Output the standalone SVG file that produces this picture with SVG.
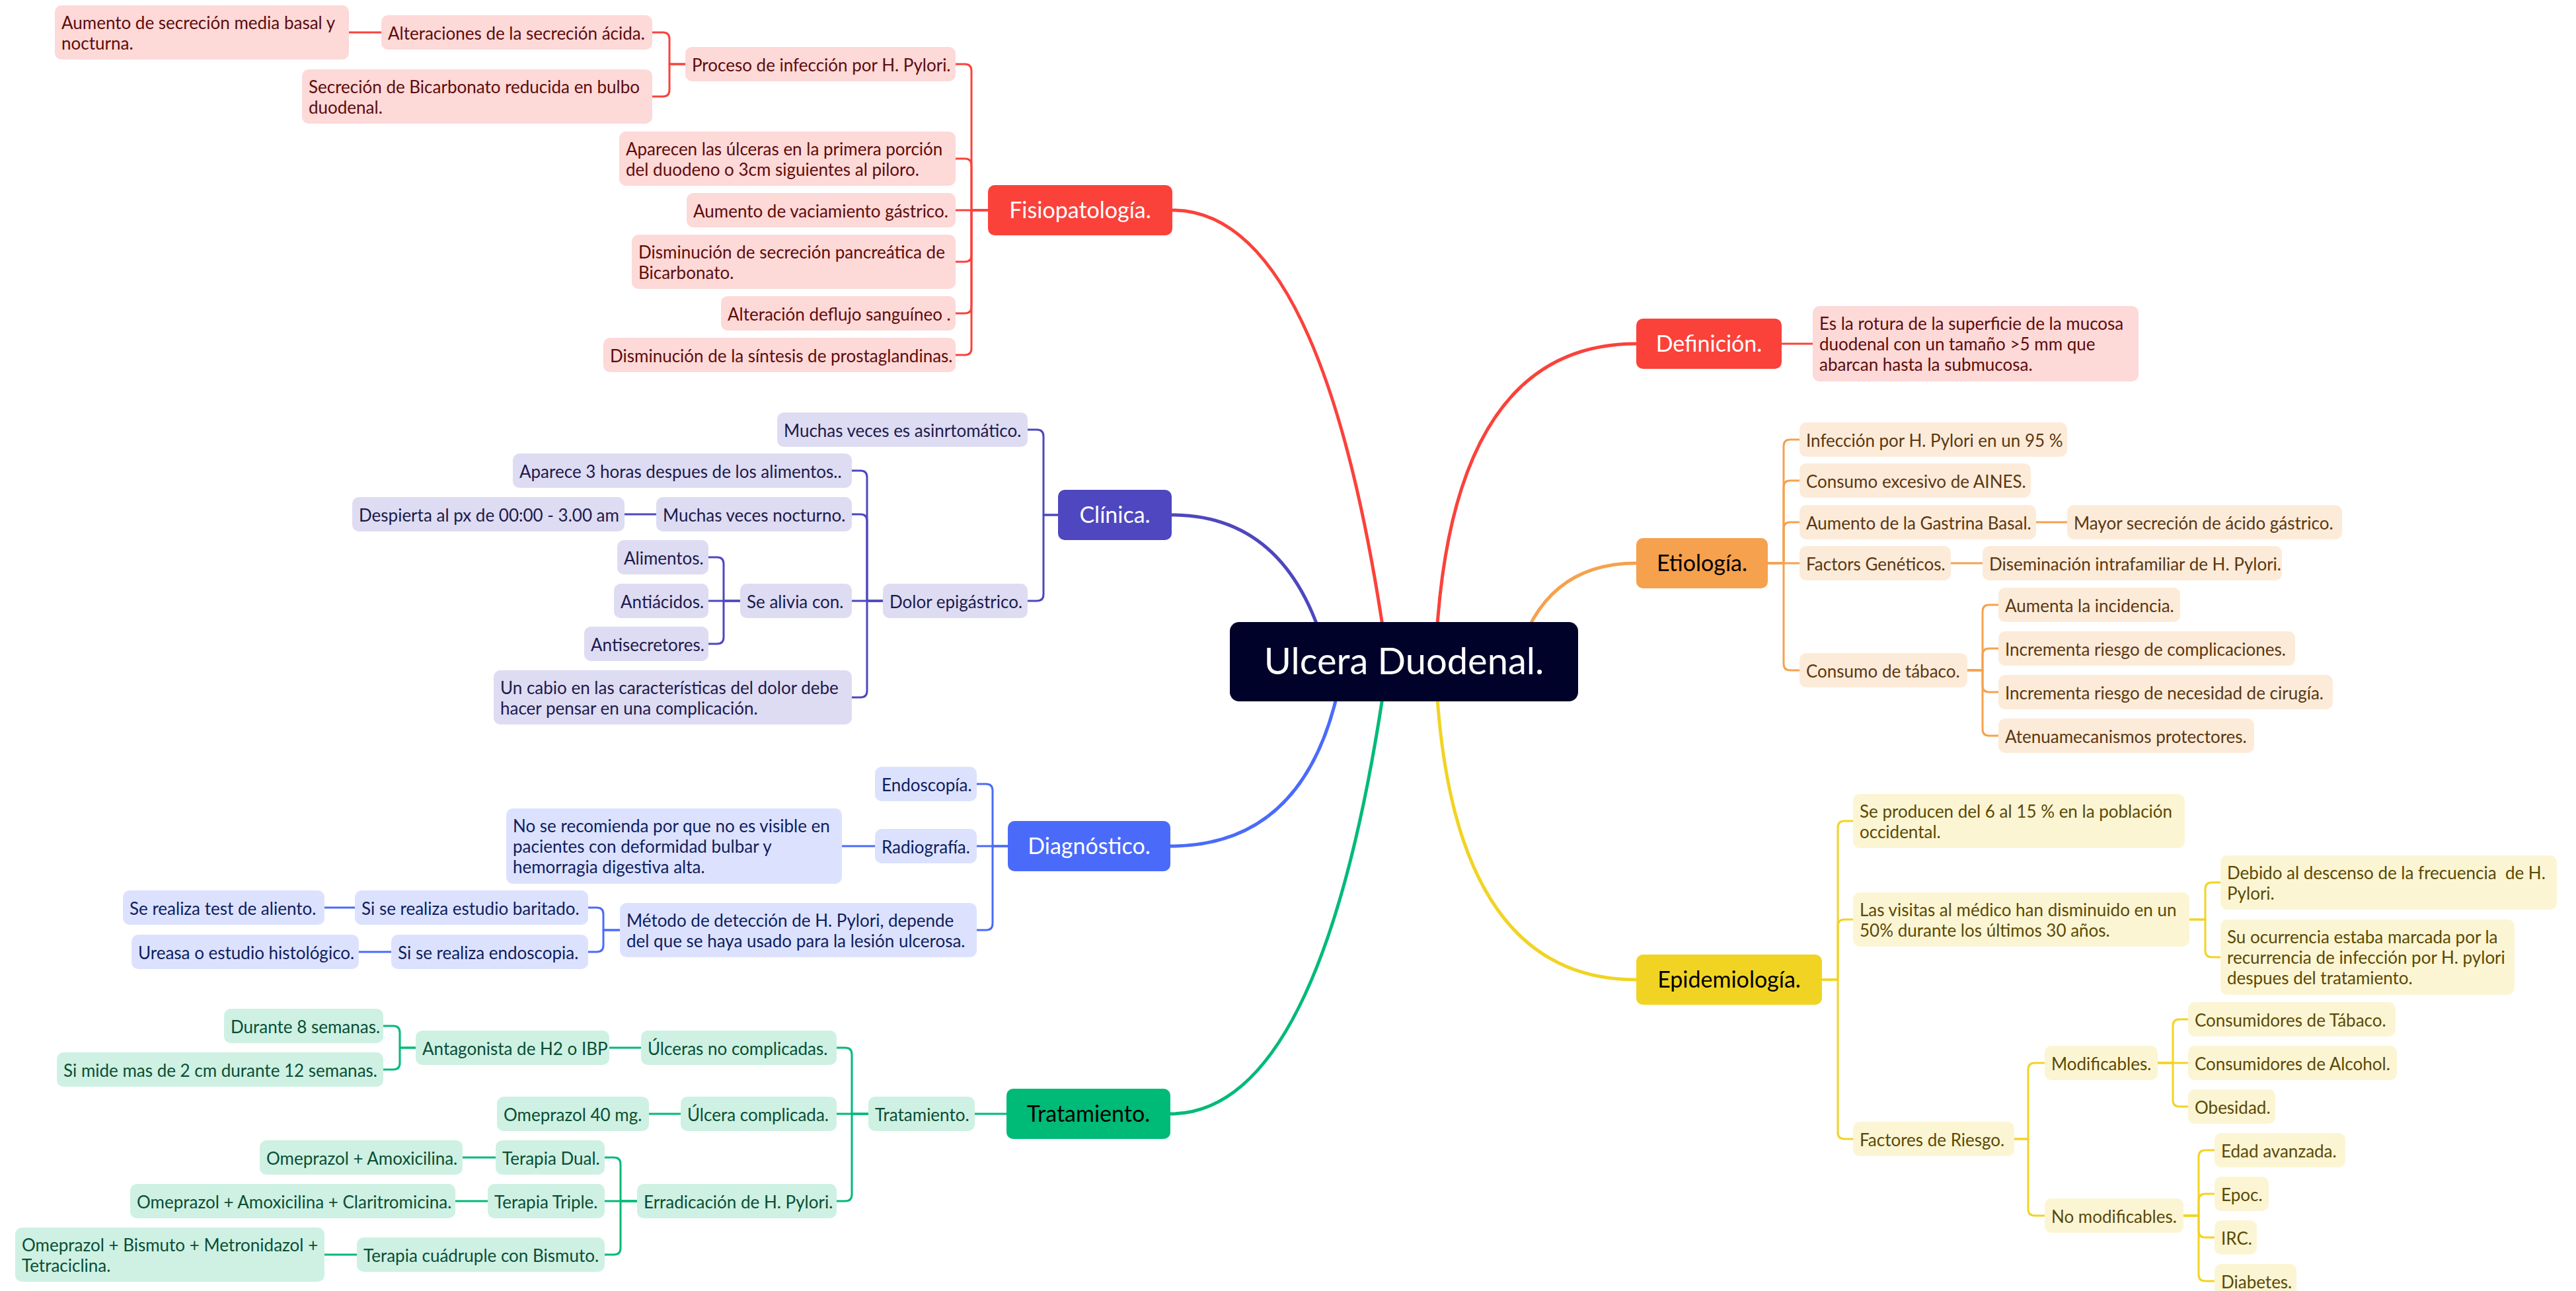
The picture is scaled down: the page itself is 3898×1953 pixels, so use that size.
<svg xmlns="http://www.w3.org/2000/svg" width="3898" height="1953" viewBox="0 0 3898 1953">
<style>
.t{font-family:Lato,"Open Sans",sans-serif;font-size:26px;transform:translateY(2px)}
.m{font-family:Lato,"Open Sans",sans-serif;font-size:34px;text-anchor:middle}
.c{fill:none;stroke-width:3;stroke-linejoin:round}
.k{fill:none;stroke-width:5;stroke-linecap:round}
.sr{stroke:#FA423B}.si{stroke:#4E47BF}.sb{stroke:#4A6BFA}.sg{stroke:#00BA78}.so{stroke:#F6A14D}.sy{stroke:#F1D423}
.fr{fill:#FDD9D8}.fi{fill:#DEDCF2}.fb{fill:#DCE2FE}.fg{fill:#CEF1E3}.fo{fill:#FDEBD9}.fy{fill:#FCF5D3}
.tr{fill:#5E0C0C}.ti{fill:#1D1A4C}.tb{fill:#0F1E5E}.tg{fill:#0A4E35}.to{fill:#5A3812}.ty{fill:#5A4A06}
.w{fill:#FFFFFF}.b{fill:#000000}
</style>
<rect width="3898" height="1953" fill="#FFFFFF"/>
<g id="connectors">
<path class="k sr" d="M1774 318 Q2005 318 2100 1001"/>
<path class="k si" d="M1773 779 Q1955 779 2010 1001"/>
<path class="k sb" d="M1771 1280 Q1990 1280 2033 1001"/>
<path class="k sg" d="M1771 1685 Q2005 1685 2100 1001"/>
<path class="k sr" d="M2476 520 Q2189 520 2172 1001"/>
<path class="k so" d="M2476 852 Q2334 852 2294 1001"/>
<path class="k sy" d="M2476 1482 Q2189 1482 2172 1001"/>
<g class="c sr">
<path d="M1495 318 H1470 V107 Q1470 97 1460 97 H1446"/>
<path d="M1495 318 H1470 V250 Q1470 240 1460 240 H1446"/>
<path d="M1495 318 H1446"/>
<path d="M1495 318 H1470 V386 Q1470 396 1460 396 H1446"/>
<path d="M1495 318 H1470 V464 Q1470 474 1460 474 H1446"/>
<path d="M1495 318 H1470 V527 Q1470 537 1460 537 H1446"/>
<path d="M1037 97 H1013 V59 Q1013 49 1003 49 H987"/>
<path d="M1037 97 H1013 V136 Q1013 146 1003 146 H987"/>
<path d="M577 49 H528"/>
<path d="M2696 520 H2743"/>
</g>
<g class="c si">
<path d="M1601 779 H1579 V660 Q1579 650 1569 650 H1555"/>
<path d="M1601 779 H1579 V899 Q1579 909 1569 909 H1555"/>
<path d="M1336 909 H1312 V722 Q1312 712 1302 712 H1289"/>
<path d="M1336 909 H1312 V788 Q1312 778 1302 778 H1289"/>
<path d="M1336 909 H1289"/>
<path d="M1336 909 H1312 V1045 Q1312 1055 1302 1055 H1289"/>
<path d="M993 778 H945"/>
<path d="M1120 909 H1095 V853 Q1095 843 1085 843 H1072"/>
<path d="M1120 909 H1072"/>
<path d="M1120 909 H1095 V964 Q1095 974 1085 974 H1072"/>
</g>
<g class="c sb">
<path d="M1525 1280 H1502 V1196 Q1502 1186 1492 1186 H1478"/>
<path d="M1525 1280 H1478"/>
<path d="M1525 1280 H1502 V1397 Q1502 1407 1492 1407 H1478"/>
<path d="M1324 1280 H1274"/>
<path d="M938 1407 H913 V1383 Q913 1373 903 1373 H890"/>
<path d="M938 1407 H913 V1430 Q913 1440 903 1440 H890"/>
<path d="M537 1373 H491"/>
<path d="M592 1440 H543"/>
</g>
<g class="c sg">
<path d="M1523 1685 H1475"/>
<path d="M1314 1685 H1289 V1595 Q1289 1585 1279 1585 H1266"/>
<path d="M1314 1685 H1266"/>
<path d="M1314 1685 H1289 V1807 Q1289 1817 1279 1817 H1266"/>
<path d="M970 1585 H922"/>
<path d="M629 1585 H605 V1562 Q605 1552 595 1552 H580"/>
<path d="M629 1585 H605 V1608 Q605 1618 595 1618 H580"/>
<path d="M1030 1685 H982"/>
<path d="M964 1817 H939 V1761 Q939 1751 929 1751 H915"/>
<path d="M964 1817 H915"/>
<path d="M964 1817 H939 V1888 Q939 1898 929 1898 H915"/>
<path d="M750 1751 H700"/>
<path d="M738 1817 H689"/>
<path d="M540 1898 H491"/>
</g>
<g class="c so">
<path d="M2675 852 H2699 V675 Q2699 665 2709 665 H2723"/>
<path d="M2675 852 H2699 V737 Q2699 727 2709 727 H2723"/>
<path d="M2675 852 H2699 V800 Q2699 790 2709 790 H2723"/>
<path d="M2675 852 H2723"/>
<path d="M2675 852 H2699 V1004 Q2699 1014 2709 1014 H2723"/>
<path d="M3081 790 H3128"/>
<path d="M2952 852 H3000"/>
<path d="M2977 1014 H3000 V925 Q3000 915 3010 915 H3024"/>
<path d="M2977 1014 H3000 V991 Q3000 981 3010 981 H3024"/>
<path d="M2977 1014 H3000 V1037 Q3000 1047 3010 1047 H3024"/>
<path d="M2977 1014 H3000 V1103 Q3000 1113 3010 1113 H3024"/>
</g>
<g class="c sy">
<path d="M2757 1482 H2781 V1252 Q2781 1242 2791 1242 H2804"/>
<path d="M2757 1482 H2781 V1401 Q2781 1391 2791 1391 H2804"/>
<path d="M2757 1482 H2781 V1713 Q2781 1723 2791 1723 H2804"/>
<path d="M3313 1391 H3337 V1345 Q3337 1335 3347 1335 H3360"/>
<path d="M3313 1391 H3337 V1438 Q3337 1448 3347 1448 H3360"/>
<path d="M3048 1723 H3069 V1618 Q3069 1608 3079 1608 H3094"/>
<path d="M3048 1723 H3069 V1829 Q3069 1839 3079 1839 H3094"/>
<path d="M3265 1608 H3288 V1552 Q3288 1542 3298 1542 H3311"/>
<path d="M3265 1608 H3311"/>
<path d="M3265 1608 H3288 V1664 Q3288 1674 3298 1674 H3311"/>
<path d="M3304 1839 H3327 V1750 Q3327 1740 3337 1740 H3351"/>
<path d="M3304 1839 H3327 V1816 Q3327 1806 3337 1806 H3351"/>
<path d="M3304 1839 H3327 V1862 Q3327 1872 3337 1872 H3351"/>
<path d="M3304 1839 H3327 V1928 Q3327 1938 3337 1938 H3351"/>
</g>
</g>

<g id="root"><rect x="1861" y="941" width="527" height="120" rx="14" fill="#000229"/><text x="2124.5" y="1020" class="m w" style="font-size:56px">Ulcera Duodenal.</text></g>

<g id="fisiopatologia"><rect x="1495" y="280" width="279" height="76" rx="10" fill="#FA423B"/><text x="1634.5" y="330" class="m w">Fisiopatología.</text></g>
<g id="n-aumento-secrecion"><rect x="83" y="8" width="445" height="82" rx="10" class="fr"/><text class="t tr" x="93" y="42">Aumento de secreción media basal y</text><text class="t tr" x="93" y="73">nocturna.</text></g>
<g id="n-alteraciones"><rect x="577" y="23" width="410" height="52" rx="10" class="fr"/><text class="t tr" x="587" y="57.5">Alteraciones de la secreción ácida.</text></g>
<g id="n-bicarbonato"><rect x="457" y="105" width="530" height="82" rx="10" class="fr"/><text class="t tr" x="467" y="139">Secreción de Bicarbonato reducida en bulbo</text><text class="t tr" x="467" y="170">duodenal.</text></g>
<g id="n-proceso"><rect x="1037" y="71" width="409" height="52" rx="10" class="fr"/><text class="t tr" x="1047" y="105.5">Proceso de infección por H. Pylori.</text></g>
<g id="n-aparecen"><rect x="937" y="199" width="509" height="82" rx="10" class="fr"/><text class="t tr" x="947" y="233">Aparecen las úlceras en la primera porción</text><text class="t tr" x="947" y="264">del duodeno o 3cm siguientes al piloro.</text></g>
<g id="n-vaciamiento"><rect x="1039" y="292" width="407" height="52" rx="10" class="fr"/><text class="t tr" x="1049" y="326.5">Aumento de vaciamiento gástrico.</text></g>
<g id="n-pancreatica"><rect x="956" y="355" width="490" height="82" rx="10" class="fr"/><text class="t tr" x="966" y="389">Disminución de secreción pancreática de</text><text class="t tr" x="966" y="420">Bicarbonato.</text></g>
<g id="n-flujo"><rect x="1091" y="448" width="355" height="52" rx="10" class="fr"/><text class="t tr" x="1101" y="482.5">Alteración deflujo sanguíneo .</text></g>
<g id="n-prostaglandinas"><rect x="913" y="511" width="533" height="52" rx="10" class="fr"/><text class="t tr" x="923" y="545.5">Disminución de la síntesis de prostaglandinas.</text></g>

<g id="clinica"><rect x="1601" y="741" width="172" height="76" rx="10" fill="#4E47BF"/><text x="1687" y="791" class="m w">Clínica.</text></g>
<g id="n-asinrtomatico"><rect x="1176" y="624" width="379" height="52" rx="10" class="fi"/><text class="t ti" x="1186" y="658.5">Muchas veces es asinrtomático.</text></g>
<g id="n-aparece"><rect x="776" y="686" width="513" height="52" rx="10" class="fi"/><text class="t ti" x="786" y="720.5">Aparece 3 horas despues de los alimentos..</text></g>
<g id="n-despierta"><rect x="533" y="752" width="412" height="52" rx="10" class="fi"/><text class="t ti" x="543" y="786.5">Despierta al px de 00:00 - 3.00 am</text></g>
<g id="n-nocturno"><rect x="993" y="752" width="296" height="52" rx="10" class="fi"/><text class="t ti" x="1003" y="786.5">Muchas veces nocturno.</text></g>
<g id="n-alimentos"><rect x="934" y="817" width="138" height="52" rx="10" class="fi"/><text class="t ti" x="944" y="851.5">Alimentos.</text></g>
<g id="n-antiacidos"><rect x="929" y="883" width="143" height="52" rx="10" class="fi"/><text class="t ti" x="939" y="917.5">Antiácidos.</text></g>
<g id="n-antisecretores"><rect x="884" y="948" width="188" height="52" rx="10" class="fi"/><text class="t ti" x="894" y="982.5">Antisecretores.</text></g>
<g id="n-alivia"><rect x="1120" y="883" width="169" height="52" rx="10" class="fi"/><text class="t ti" x="1130" y="917.5">Se alivia con.</text></g>
<g id="n-cabio"><rect x="747" y="1014" width="542" height="82" rx="10" class="fi"/><text class="t ti" x="757" y="1048">Un cabio en las características del dolor debe</text><text class="t ti" x="757" y="1079">hacer pensar en una complicación.</text></g>
<g id="n-dolor"><rect x="1336" y="883" width="219" height="52" rx="10" class="fi"/><text class="t ti" x="1346" y="917.5">Dolor epigástrico.</text></g>

<g id="diagnostico"><rect x="1525" y="1242" width="246" height="76" rx="10" fill="#4A6BFA"/><text x="1648" y="1292" class="m w">Diagnóstico.</text></g>
<g id="n-endoscopia"><rect x="1324" y="1160" width="154" height="52" rx="10" class="fb"/><text class="t tb" x="1334" y="1194.5">Endoscopía.</text></g>
<g id="n-nose"><rect x="766" y="1223" width="508" height="114" rx="10" class="fb"/><text class="t tb" x="776" y="1257">No se recomienda por que no es visible en</text><text class="t tb" x="776" y="1288">pacientes con deformidad bulbar y</text><text class="t tb" x="776" y="1319">hemorragia digestiva alta.</text></g>
<g id="n-radiografia"><rect x="1324" y="1254" width="154" height="52" rx="10" class="fb"/><text class="t tb" x="1334" y="1288.5">Radiografía.</text></g>
<g id="n-test"><rect x="186" y="1347" width="305" height="52" rx="10" class="fb"/><text class="t tb" x="196" y="1381.5">Se realiza test de aliento.</text></g>
<g id="n-baritado"><rect x="537" y="1347" width="353" height="52" rx="10" class="fb"/><text class="t tb" x="547" y="1381.5">Si se realiza estudio baritado.</text></g>
<g id="n-ureasa"><rect x="199" y="1414" width="344" height="52" rx="10" class="fb"/><text class="t tb" x="209" y="1448.5">Ureasa o estudio histológico.</text></g>
<g id="n-si-endoscopia"><rect x="592" y="1414" width="298" height="52" rx="10" class="fb"/><text class="t tb" x="602" y="1448.5">Si se realiza endoscopia.</text></g>
<g id="n-metodo"><rect x="938" y="1366" width="540" height="82" rx="10" class="fb"/><text class="t tb" x="948" y="1400">Método de detección de H. Pylori, depende</text><text class="t tb" x="948" y="1431">del que se haya usado para la lesión ulcerosa.</text></g>

<g id="tratamiento"><rect x="1523" y="1647" width="248" height="76" rx="10" fill="#00BA78"/><text x="1647" y="1697" class="m b">Tratamiento.</text></g>
<g id="n-durante"><rect x="339" y="1526" width="241" height="52" rx="10" class="fg"/><text class="t tg" x="349" y="1560.5">Durante 8 semanas.</text></g>
<g id="n-simide"><rect x="86" y="1592" width="494" height="52" rx="10" class="fg"/><text class="t tg" x="96" y="1626.5">Si mide mas de 2 cm durante 12 semanas.</text></g>
<g id="n-antagonista"><rect x="629" y="1559" width="293" height="52" rx="10" class="fg"/><text class="t tg" x="639" y="1593.5">Antagonista de H2 o IBP</text></g>
<g id="n-ulceras-no"><rect x="970" y="1559" width="296" height="52" rx="10" class="fg"/><text class="t tg" x="980" y="1593.5">Úlceras no complicadas.</text></g>
<g id="n-omeprazol40"><rect x="752" y="1659" width="230" height="52" rx="10" class="fg"/><text class="t tg" x="762" y="1693.5">Omeprazol 40 mg.</text></g>
<g id="n-ulcera-compl"><rect x="1030" y="1659" width="236" height="52" rx="10" class="fg"/><text class="t tg" x="1040" y="1693.5">Úlcera complicada.</text></g>
<g id="n-tratamiento-sub"><rect x="1314" y="1659" width="161" height="52" rx="10" class="fg"/><text class="t tg" x="1324" y="1693.5">Tratamiento.</text></g>
<g id="n-omep-amox"><rect x="393" y="1725" width="307" height="52" rx="10" class="fg"/><text class="t tg" x="403" y="1759.5">Omeprazol + Amoxicilina.</text></g>
<g id="n-dual"><rect x="750" y="1725" width="165" height="52" rx="10" class="fg"/><text class="t tg" x="760" y="1759.5">Terapia Dual.</text></g>
<g id="n-omep-amox-clari"><rect x="197" y="1791" width="492" height="52" rx="10" class="fg"/><text class="t tg" x="207" y="1825.5">Omeprazol + Amoxicilina + Claritromicina.</text></g>
<g id="n-triple"><rect x="738" y="1791" width="177" height="52" rx="10" class="fg"/><text class="t tg" x="748" y="1825.5">Terapia Triple.</text></g>
<g id="n-erradicacion"><rect x="964" y="1791" width="302" height="52" rx="10" class="fg"/><text class="t tg" x="974" y="1825.5">Erradicación de H. Pylori.</text></g>
<g id="n-omep-bismuto"><rect x="23" y="1857" width="468" height="82" rx="10" class="fg"/><text class="t tg" x="33" y="1891">Omeprazol + Bismuto + Metronidazol +</text><text class="t tg" x="33" y="1922">Tetraciclina.</text></g>
<g id="n-cuadruple"><rect x="540" y="1872" width="375" height="52" rx="10" class="fg"/><text class="t tg" x="550" y="1906.5">Terapia cuádruple con Bismuto.</text></g>

<g id="definicion"><rect x="2476" y="482" width="220" height="76" rx="10" fill="#FA423B"/><text x="2586" y="532" class="m w">Definición.</text></g>
<g id="n-definicion-texto"><rect x="2743" y="463" width="493" height="114" rx="10" class="fr"/><text class="t tr" x="2753" y="497">Es la rotura de la superficie de la mucosa</text><text class="t tr" x="2753" y="528">duodenal con un tamaño &gt;5 mm que</text><text class="t tr" x="2753" y="559">abarcan hasta la submucosa.</text></g>

<g id="etiologia"><rect x="2476" y="814" width="199" height="76" rx="10" fill="#F6A14D"/><text x="2575.5" y="864" class="m b">Etiología.</text></g>
<g id="n-infeccion"><rect x="2723" y="639" width="405" height="52" rx="10" class="fo"/><text class="t to" x="2733" y="673.5">Infección por H. Pylori en un 95 %</text></g>
<g id="n-aines"><rect x="2723" y="701" width="350" height="52" rx="10" class="fo"/><text class="t to" x="2733" y="735.5">Consumo excesivo de AINES.</text></g>
<g id="n-gastrina"><rect x="2723" y="764" width="358" height="52" rx="10" class="fo"/><text class="t to" x="2733" y="798.5">Aumento de la Gastrina Basal.</text></g>
<g id="n-mayor"><rect x="3128" y="764" width="416" height="52" rx="10" class="fo"/><text class="t to" x="3138" y="798.5">Mayor secreción de ácido gástrico.</text></g>
<g id="n-factors"><rect x="2723" y="826" width="229" height="52" rx="10" class="fo"/><text class="t to" x="2733" y="860.5">Factors Genéticos.</text></g>
<g id="n-diseminacion"><rect x="3000" y="826" width="453" height="52" rx="10" class="fo"/><text class="t to" x="3010" y="860.5">Diseminación intrafamiliar de H. Pylori.</text></g>
<g id="n-tabaco"><rect x="2723" y="988" width="254" height="52" rx="10" class="fo"/><text class="t to" x="2733" y="1022.5">Consumo de tábaco.</text></g>
<g id="n-aumenta"><rect x="3024" y="889" width="275" height="52" rx="10" class="fo"/><text class="t to" x="3034" y="923.5">Aumenta la incidencia.</text></g>
<g id="n-complicaciones"><rect x="3024" y="955" width="449" height="52" rx="10" class="fo"/><text class="t to" x="3034" y="989.5">Incrementa riesgo de complicaciones.</text></g>
<g id="n-cirugia"><rect x="3024" y="1021" width="506" height="52" rx="10" class="fo"/><text class="t to" x="3034" y="1055.5">Incrementa riesgo de necesidad de cirugía.</text></g>
<g id="n-atenua"><rect x="3024" y="1087" width="387" height="52" rx="10" class="fo"/><text class="t to" x="3034" y="1121.5">Atenuamecanismos protectores.</text></g>

<g id="epidemiologia"><rect x="2476" y="1444" width="281" height="76" rx="10" fill="#F1D423"/><text x="2616.5" y="1494" class="m b">Epidemiología.</text></g>
<g id="n-seproducen"><rect x="2804" y="1201" width="502" height="82" rx="10" class="fy"/><text class="t ty" x="2814" y="1235">Se producen del 6 al 15 % en la población</text><text class="t ty" x="2814" y="1266">occidental.</text></g>
<g id="n-visitas"><rect x="2804" y="1350" width="509" height="82" rx="10" class="fy"/><text class="t ty" x="2814" y="1384">Las visitas al médico han disminuido en un</text><text class="t ty" x="2814" y="1415">50% durante los últimos 30 años.</text></g>
<g id="n-debido"><rect x="3360" y="1294" width="509" height="82" rx="10" class="fy"/><text class="t ty" x="3370" y="1328">Debido al descenso de la frecuencia&#160; de H.</text><text class="t ty" x="3370" y="1359">Pylori.</text></g>
<g id="n-ocurrencia"><rect x="3360" y="1391" width="445" height="114" rx="10" class="fy"/><text class="t ty" x="3370" y="1425">Su ocurrencia estaba marcada por la</text><text class="t ty" x="3370" y="1456">recurrencia de infección por H. pylori</text><text class="t ty" x="3370" y="1487">despues del tratamiento.</text></g>
<g id="n-factores"><rect x="2804" y="1697" width="244" height="52" rx="10" class="fy"/><text class="t ty" x="2814" y="1731.5">Factores de Riesgo.</text></g>
<g id="n-modificables"><rect x="3094" y="1582" width="171" height="52" rx="10" class="fy"/><text class="t ty" x="3104" y="1616.5">Modificables.</text></g>
<g id="n-cons-tabaco"><rect x="3311" y="1516" width="314" height="52" rx="10" class="fy"/><text class="t ty" x="3321" y="1550.5">Consumidores de Tábaco.</text></g>
<g id="n-cons-alcohol"><rect x="3311" y="1582" width="316" height="52" rx="10" class="fy"/><text class="t ty" x="3321" y="1616.5">Consumidores de Alcohol.</text></g>
<g id="n-obesidad"><rect x="3311" y="1648" width="132" height="52" rx="10" class="fy"/><text class="t ty" x="3321" y="1682.5">Obesidad.</text></g>
<g id="n-nomod"><rect x="3094" y="1813" width="210" height="52" rx="10" class="fy"/><text class="t ty" x="3104" y="1847.5">No modificables.</text></g>
<g id="n-edad"><rect x="3351" y="1714" width="198" height="52" rx="10" class="fy"/><text class="t ty" x="3361" y="1748.5">Edad avanzada.</text></g>
<g id="n-epoc"><rect x="3351" y="1780" width="82" height="52" rx="10" class="fy"/><text class="t ty" x="3361" y="1814.5">Epoc.</text></g>
<g id="n-irc"><rect x="3351" y="1846" width="64" height="52" rx="10" class="fy"/><text class="t ty" x="3361" y="1880.5">IRC.</text></g>
<g id="n-diabetes"><rect x="3351" y="1912" width="124" height="52" rx="10" class="fy"/><text class="t ty" x="3361" y="1946.5">Diabetes.</text></g>
</svg>
